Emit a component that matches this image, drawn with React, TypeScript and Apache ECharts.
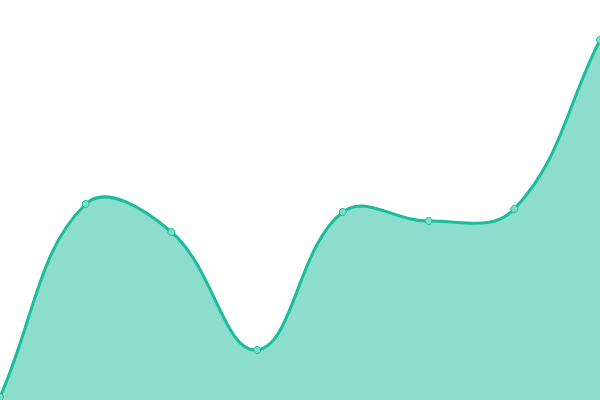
import { useEffect, useRef } from 'react'
import * as echarts from 'echarts'

const categories = ['A', 'B', 'C', 'D', 'E', 'F', 'G', 'H']
const values = [3, 196, 168, 50, 188, 179, 191, 360]

const lineColor = '#1abc9c'
const fillColor = 'rgba(26, 188, 156, 0.5)'
const tension = 0.4

type Pt = [number, number]

// cardinal-like spline, each point gets two control points
function controlPoints(pts: Pt[], left: number, right: number, top: number, bottom: number) {
  const clampX = (x: number) => Math.min(Math.max(x, left), right)
  const clampY = (y: number) => Math.min(Math.max(y, top), bottom)
  return pts.map((cur, i) => {
    const prev = pts[i - 1] || cur
    const next = pts[i + 1] || cur
    const d01 = Math.hypot(cur[0] - prev[0], cur[1] - prev[1])
    const d12 = Math.hypot(next[0] - cur[0], next[1] - cur[1])
    const sum = d01 + d12 || 1
    const fa = (tension * d01) / sum
    const fb = (tension * d12) / sum
    const dx = next[0] - prev[0]
    const dy = next[1] - prev[1]
    return {
      before: [clampX(cur[0] - fa * dx), clampY(cur[1] - fa * dy)] as Pt,
      after: [clampX(cur[0] + fb * dx), clampY(cur[1] + fb * dy)] as Pt
    }
  })
}

export default function App() {
  const ref = useRef<HTMLDivElement | null>(null)

  useEffect(() => {
    if (!ref.current) return
    document.body.style.margin = '0'
    const chart = echarts.init(ref.current, null, { renderer: 'svg' })
    chart.setOption({
      animation: false,
      grid: { left: 0, right: 0, top: 0, bottom: 0 },
      xAxis: {
        type: 'category',
        data: categories,
        boundaryGap: false,
        show: false
      },
      yAxis: {
        type: 'value',
        min: 0,
        max: 400,
        show: false
      },
      series: [
        {
          type: 'custom',
          data: values.map((v, i) => [i, v]),
          encode: { x: 0, y: 1 },
          clip: false,
          renderItem: (params: any, api: any) => {
            if (params.dataIndex !== 0) return null
            const pts: Pt[] = values.map((v, i) => api.coord([i, v]))
            const cs = params.coordSys
            const cps = controlPoints(pts, cs.x, cs.x + cs.width, cs.y, cs.y + cs.height)
            let d = `M${pts[0][0]} ${pts[0][1]}`
            for (let i = 1; i < pts.length; i++) {
              const a = cps[i - 1].after
              const b = cps[i].before
              d += ` C${a[0]} ${a[1]} ${b[0]} ${b[1]} ${pts[i][0]} ${pts[i][1]}`
            }
            const base = api.coord([0, 0])[1]
            const last = pts[pts.length - 1]
            const area = `${d} L${last[0]} ${base} L${pts[0][0]} ${base} Z`
            return {
              type: 'group',
              children: [
                { type: 'path', shape: { pathData: area }, style: { fill: fillColor, stroke: 'none' } },
                { type: 'path', shape: { pathData: d }, style: { fill: 'none', stroke: lineColor, lineWidth: 3 } }
              ]
            }
          }
        },
        {
          type: 'scatter',
          data: values.map((v, i) => [i, v]),
          symbol: 'circle',
          symbolSize: 7,
          itemStyle: { color: '#7fdcc9', borderColor: lineColor, borderWidth: 1, opacity: 1 }
        }
      ]
    })
    return () => {
      chart.dispose()
    }
  }, [])

  return <div ref={ref} style={{ position: 'absolute', left: 0, top: 0, width: 600, height: 400 }} />
}
